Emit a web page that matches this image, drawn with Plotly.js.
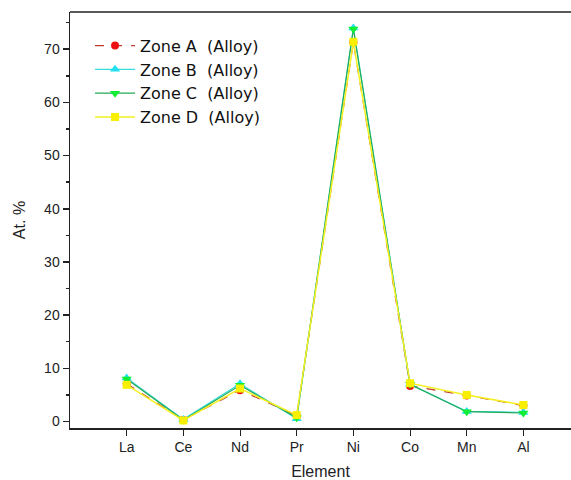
<!DOCTYPE html>
<html>
<head>
<meta charset="utf-8">
<script src="https://cdn.plot.ly/plotly-3.0.1.min.js"></script>
<style>html,body{margin:0;padding:0;overflow:hidden;background:#fff;}</style>
</head>
<body>
<div id="chart" style="width:571px;height:480px;"></div>
<script>
const elements = ["La", "Ce", "Nd", "Pr", "Ni", "Co", "Mn", "Al"];
const xPos = [1, 2, 3, 4, 5, 6, 7, 8];
const zoneA = [7.1, 0.3, 5.9, 1.1, 71.3, 6.7, 4.9, 3.0];
const zoneB = [8.2, 0.4, 7.1, 0.5, 74.0, 7.0, 1.9, 1.7];
const zoneC = [8.0, 0.3, 6.8, 0.7, 73.8, 7.0, 1.85, 1.6];
const zoneD = [6.9, 0.2, 6.2, 1.2, 71.4, 7.2, 5.0, 3.1];
const names = ["Zone A\u00a0\u00a0(Alloy)", "Zone B\u00a0\u00a0(Alloy)", "Zone C\u00a0\u00a0(Alloy)", "Zone D\u00a0\u00a0(Alloy)"];

const traces = [
  {x: xPos, y: zoneA, name: names[0], mode: "lines+markers",
   line: {color: "#c0392b", width: 1.2, dash: "dash"},
   marker: {symbol: "circle", size: 8, color: "#ee1111"}},
  {x: xPos, y: zoneB, name: names[1], mode: "lines+markers",
   line: {color: "#33dddd", width: 1.2},
   marker: {symbol: "triangle-up", size: 9, color: "#22e0f0"}},
  {x: xPos, y: zoneC, name: names[2], mode: "lines+markers",
   line: {color: "#22aa55", width: 1.2},
   marker: {symbol: "triangle-down", size: 9, color: "#11ee33"}},
  {x: xPos, y: zoneD, name: names[3], mode: "lines+markers",
   line: {color: "#f5f020", width: 1.5},
   marker: {symbol: "square", size: 8, color: "#f8f000"}}
];

const layout = {
  width: 571, height: 480,
  margin: {l: 70, r: 0, t: 12, b: 52},
  paper_bgcolor: "#fff", plot_bgcolor: "#fff",
  font: {family: "Liberation Sans, Arial, sans-serif", color: "#222", size: 14},
  showlegend: true,
  legend: {x: 0.04, y: 0.96, xanchor: "left", yanchor: "top",
           bgcolor: "rgba(0,0,0,0)", font: {family: "DejaVu Sans, sans-serif", size: 16, color: "#111"},
           tracegroupgap: 0, itemwidth: 40},
  xaxis: {
    range: [0, 8.84], tickmode: "array", tickvals: xPos, ticktext: elements,
    showgrid: false, zeroline: false, showline: true, linecolor: "#222", linewidth: 1.5,
    ticks: "outside", ticklen: 6, tickcolor: "#222", tickwidth: 1,
    tickfont: {size: 14, color: "#222"},
    title: {text: "Element", font: {size: 16, color: "#222"}, standoff: 12}
  },
  yaxis: {
    range: [-1.22, 77.0], tickmode: "array", tickvals: [0, 10, 20, 30, 40, 50, 60, 70],
    showgrid: false, zeroline: false, showline: true, linecolor: "#222", linewidth: 1.5,
    ticks: "outside", ticklen: 6, tickcolor: "#222", tickwidth: 1.5,
    minor: {tickvals: [5, 15, 25, 35, 45, 55, 65, 75], ticks: "outside", ticklen: 3, tickcolor: "#222"},
    tickfont: {size: 14, color: "#222"},
    title: {text: "At. %", font: {size: 16, color: "#222"}, standoff: 14}
  },
  shapes: [{type: "line", xref: "paper", yref: "paper", x0: 0, x1: 1, y0: 1, y1: 1,
            line: {color: "#222", width: 1.5}}]
};

Plotly.newPlot("chart", traces, layout, {displayModeBar: false, staticPlot: true});
</script>
</body>
</html>
